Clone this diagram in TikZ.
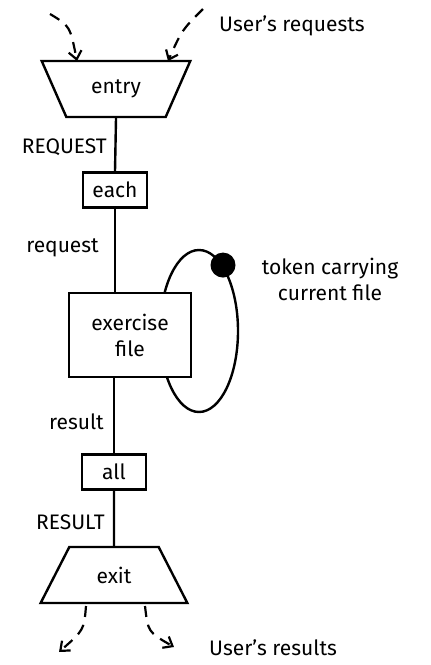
\documentclass[tikz,border=0pt]{standalone}
\usepackage{fontspec}
\setmainfont{Fira Sans}
\usetikzlibrary{shapes.geometric,arrows.meta}
\begin{document}
\begin{tikzpicture}[x=1pt,y=-1pt, line width=2.4pt,
  txt/.style={inner sep=0pt, font=\fontsize{21}{26}\selectfont},
  box/.style={draw, rectangle, inner sep=0pt, fill=white, font=\fontsize{21}{26}\selectfont},
  trap/.style={draw, trapezium, trapezium stretches=true, trapezium angle=56,
    minimum height=56pt, inner sep=0pt, font=\fontsize{21}{26}\selectfont},
  flow/.style={dash pattern=on 11pt off 8pt, line width=2.2pt,
    -{Straight Barb[length=8pt,width=13pt]}}]
\useasboundingbox (0,0) rectangle (431,665);

% loop behind the box
\node[draw, ellipse, minimum width=78pt, minimum height=162pt, inner sep=0pt] (loop) at (199,331) {};
\node[circle, fill=black, minimum size=25pt, inner sep=0pt] (tok) at (loop.70) {};

% main nodes
\node[trap, shape border rotate=180, minimum width=149pt] (entry) at (116,89) {entry};
\node[box, minimum width=64pt, minimum height=35pt] (each) at (115,190) {each};
\node[box, minimum width=122pt, minimum height=84pt, align=center] (exer) at (130,335) {exercise\\file};
\node[box, minimum width=64pt, minimum height=35pt] (all) at (114,472) {all};
\node[trap, minimum width=147pt] (exit) at (114,575) {exit};

% connectors
\draw (entry.south) -- (each.north);
\draw (each.south) -- (each.south |- exer.north);
\draw (all.north |- exer.south) -- (all.north);
\draw (all.south) -- (exit.north);

% labels
\node[txt, anchor=east] (lREQ) at (108,147) {REQUEST};
\node[txt, anchor=east] (lreq) at (100,248) {request};
\node[txt, anchor=east] (lres) at (105,422) {result};
\node[txt, anchor=east] (lRES) at (106,522) {RESULT};
\node[txt, anchor=west] (ureq) at (218,26) {User's requests};
\node[txt, anchor=west] (ures) at (208,648) {User's results};
\node[txt, align=center] (ltok) at (330,279) {token carrying\\current file};

% user arrows
\coordinate (s1) at (50,14);
\coordinate (e1) at (77,61);
\coordinate (s2) at (203,9);
\coordinate (e2) at (168,61);
\coordinate (s3) at (86,606);
\coordinate (e3) at (59,652);
\coordinate (s4) at (145,606);
\coordinate (e4) at (174,647);
\draw[flow] (s1) .. controls (70,26) .. (e1);
\draw[flow] (s2) .. controls (182,30) .. (e2);
\draw[flow] (s3) .. controls (84,630) .. (e3);
\draw[flow] (s4) .. controls (148,632) .. (e4);
\end{tikzpicture}
\end{document}
